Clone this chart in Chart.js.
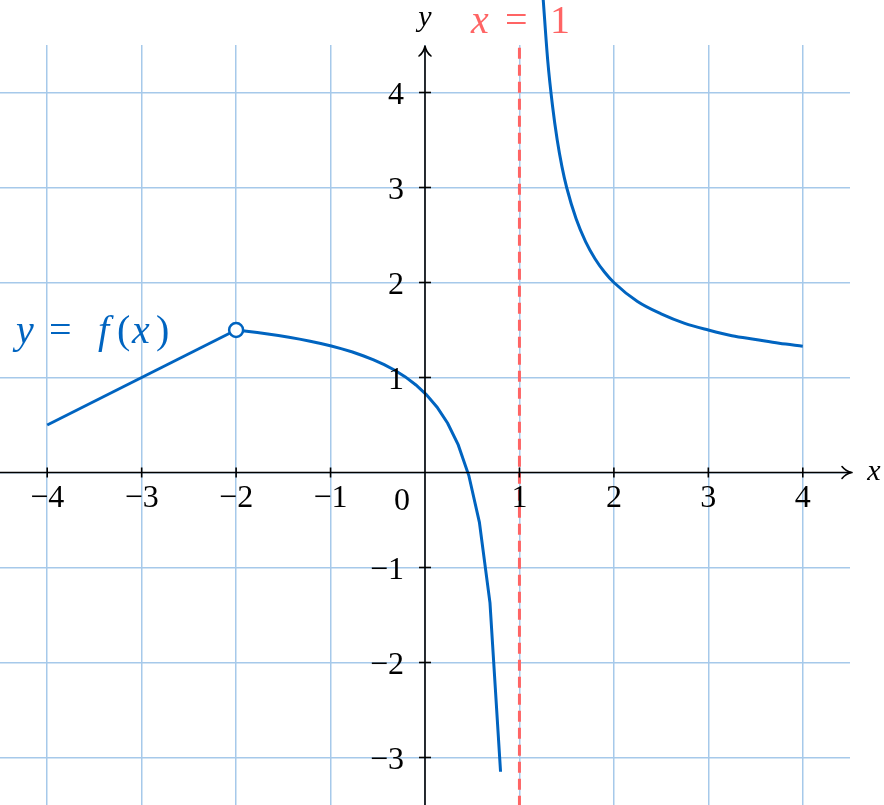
<!DOCTYPE html>
<html>
<head>
<meta charset="utf-8">
<script src="https://cdn.jsdelivr.net/npm/chart.js@4/dist/chart.umd.min.js"></script>
<style>
  html, body { margin: 0; padding: 0; background: #fff; }
  #wrap { width: 884px; height: 805px; }
</style>
</head>
<body>
<div id="wrap"><canvas id="myChart"></canvas></div>
<script>
// valores
const xTicks = [-4, -3, -2, -1, 1, 2, 3, 4];
const yTicks = [-3, -2, -1, 1, 2, 3, 4];
const gridX = [-4, -3, -2, -1, 0, 1, 2, 3, 4];
const gridY = [-3, -2, -1, 0, 1, 2, 3, 4];

// segmento reto da esquerda
const retaX = [-4, -2];
const retaY = [0.5, 1.5];

// ramo entre -2 e a assíntota
const meioX = [-2, -1.888, -1.776, -1.664, -1.552, -1.44, -1.328, -1.216, -1.104, -0.992, -0.88, -0.768, -0.656,
  -0.544, -0.432, -0.32, -0.208, -0.096, 0.016, 0.128, 0.24, 0.352, 0.464, 0.576, 0.688, 0.8];
const meioY = [1.500, 1.487, 1.473, 1.458, 1.442, 1.424, 1.404, 1.382, 1.358, 1.331, 1.301, 1.268, 1.229,
  1.186, 1.135, 1.076, 1.006, 0.921, 0.817, 0.687, 0.518, 0.290, -0.032, -0.525, -1.372, -3.15];

// ramo da direita
const direitaX = [1.25, 1.3, 1.35, 1.4, 1.45, 1.5, 1.6, 1.7, 1.8, 1.9, 2, 2.25, 2.5, 2.75, 3, 3.25, 3.5, 3.75, 4];
const direitaY = [5, 4.33, 3.86, 3.5, 3.22, 3, 2.67, 2.43, 2.25, 2.11, 2, 1.8, 1.67, 1.57, 1.5, 1.44, 1.4, 1.36, 1.33];

const furoX = [-2];
const furoY = [1.5];

const assintotaX = [1, 1];
const assintotaY = [4.47, -3.5];

const azul = '#0064c0';
const vermelho = '#ff6464';
const corGrade = '#a6c9ea';

const pontos = (xs, ys) => xs.map((x, i) => ({ x: x, y: ys[i] }));

const serif = "'Liberation Serif', serif";

// escreve pedaços de texto, cada um com sua fonte e posição
function escreve(ctx, partes, y, tam) {
  ctx.textAlign = 'left';
  ctx.textBaseline = 'alphabetic';
  partes.forEach(p => {
    ctx.font = (p[1] ? 'italic ' : '') + tam + 'px ' + serif;
    ctx.fillText(p[0], p[2], y);
  });
}

const eixos = {
  id: 'eixos',
  afterDatasetsDraw(chart) {
    const ctx = chart.ctx;
    const sx = chart.scales.x, sy = chart.scales.y;
    const x0 = sx.getPixelForValue(0), y0 = sy.getPixelForValue(0);
    const area = chart.chartArea;
    ctx.save();
    ctx.strokeStyle = '#000';
    ctx.lineWidth = 1.6;
    // eixo x
    ctx.beginPath();
    ctx.moveTo(0, y0);
    ctx.lineTo(area.right + 1, y0);
    ctx.stroke();
    // eixo y
    ctx.beginPath();
    ctx.moveTo(x0, 805);
    ctx.lineTo(x0, area.top + 3);
    ctx.stroke();
    // setas
    ctx.lineJoin = 'round';
    ctx.lineCap = 'round';
    ctx.beginPath();
    ctx.moveTo(area.right - 8, y0 - 6);
    ctx.quadraticCurveTo(area.right - 4, y0 - 1, area.right + 2, y0);
    ctx.quadraticCurveTo(area.right - 4, y0 + 1, area.right - 8, y0 + 6);
    ctx.stroke();
    ctx.beginPath();
    ctx.moveTo(x0 - 6, area.top + 11);
    ctx.quadraticCurveTo(x0 - 1, area.top + 7, x0, area.top + 1);
    ctx.quadraticCurveTo(x0 + 1, area.top + 7, x0 + 6, area.top + 11);
    ctx.stroke();
    // marcas
    ctx.lineCap = 'butt';
    gridX.forEach(v => {
      if (v === 0) return;
      const px = sx.getPixelForValue(v);
      ctx.beginPath(); ctx.moveTo(px, y0 - 5); ctx.lineTo(px, y0 + 5); ctx.stroke();
    });
    gridY.forEach(v => {
      if (v === 0) return;
      const py = sy.getPixelForValue(v);
      ctx.beginPath(); ctx.moveTo(x0 - 6, py); ctx.lineTo(x0 + 6, py); ctx.stroke();
    });
    // rótulos
    ctx.fillStyle = '#000';
    ctx.font = '32px ' + serif;
    ctx.textAlign = 'center';
    ctx.textBaseline = 'alphabetic';
    xTicks.forEach(v => {
      const txt = v < 0 ? '\u2212' + Math.abs(v) : String(v);
      ctx.fillText(txt, sx.getPixelForValue(v), y0 + 34);
    });
    ctx.textAlign = 'right';
    yTicks.forEach(v => {
      const txt = v < 0 ? '\u2212' + Math.abs(v) : String(v);
      ctx.fillText(txt, x0 - 21, sy.getPixelForValue(v) + 11);
    });
    ctx.textAlign = 'center';
    ctx.fillText('0', x0 - 23, y0 + 37);
    // nomes dos eixos
    ctx.font = 'italic 30px ' + serif;
    ctx.fillText('x', area.right + 24, y0 + 7);
    ctx.fillText('y', x0, 26);
    // legenda da assíntota
    ctx.fillStyle = vermelho;
    escreve(ctx, [['x', true, 471], ['=', false, 505], ['1', false, 550]], 33, 40);
    // legenda da função
    ctx.fillStyle = azul;
    escreve(ctx, [['y', true, 16], ['=', false, 49], ['f', true, 98], ['(', false, 117],
      ['x', true, 132], [')', false, 156]], 343, 40);
    ctx.restore();
  }
};

document.fonts.load('26px "Liberation Serif"').then(() => document.fonts.load('italic 26px "Liberation Serif"')).then(() => {
const ctx = document.getElementById('myChart').getContext('2d');
const myChart = new Chart(ctx, {
  type: 'scatter',
  data: {
    datasets: [
      {
        data: pontos(assintotaX, assintotaY),
        showLine: true, borderColor: vermelho, borderWidth: 3,
        borderDash: [11, 6], pointRadius: 0, clip: false, order: 3
      },
      {
        data: pontos(retaX, retaY),
        showLine: true, borderColor: azul, borderWidth: 3, pointRadius: 0, order: 2
      },
      {
        data: pontos(meioX, meioY),
        showLine: true, borderColor: azul, borderWidth: 3, pointRadius: 0, order: 2
      },
      {
        data: pontos(direitaX, direitaY),
        showLine: true, borderColor: azul, borderWidth: 3, pointRadius: 0,
        cubicInterpolationMode: 'monotone', clip: false, order: 2
      },
      {
        data: pontos(furoX, furoY),
        showLine: false, pointRadius: 7, pointBorderWidth: 2.5,
        pointBackgroundColor: '#fff', pointBorderColor: azul, order: 1
      }
    ]
  },
  options: {
    responsive: true,
    maintainAspectRatio: false,
    animation: false,
    layout: { autoPadding: false, padding: { left: 0, right: 34, top: 45, bottom: 0 } },
    plugins: { legend: { display: false }, tooltip: { enabled: false } },
    scales: {
      x: {
        type: 'linear', min: -4.5, max: 4.5,
        afterBuildTicks: s => { s.ticks = gridX.map(v => ({ value: v })); },
        afterFit: s => { s.height = 0; },
        ticks: { display: false },
        border: { display: false },
        grid: { color: corGrade, lineWidth: 1.5, drawTicks: false }
      },
      y: {
        type: 'linear', min: -3.5, max: 4.5,
        afterBuildTicks: s => { s.ticks = gridY.map(v => ({ value: v })); },
        afterFit: s => { s.width = 0; },
        ticks: { display: false },
        border: { display: false },
        grid: { color: corGrade, lineWidth: 1.5, drawTicks: false }
      }
    }
  },
  plugins: [eixos]
});
});
</script>
</body>
</html>
